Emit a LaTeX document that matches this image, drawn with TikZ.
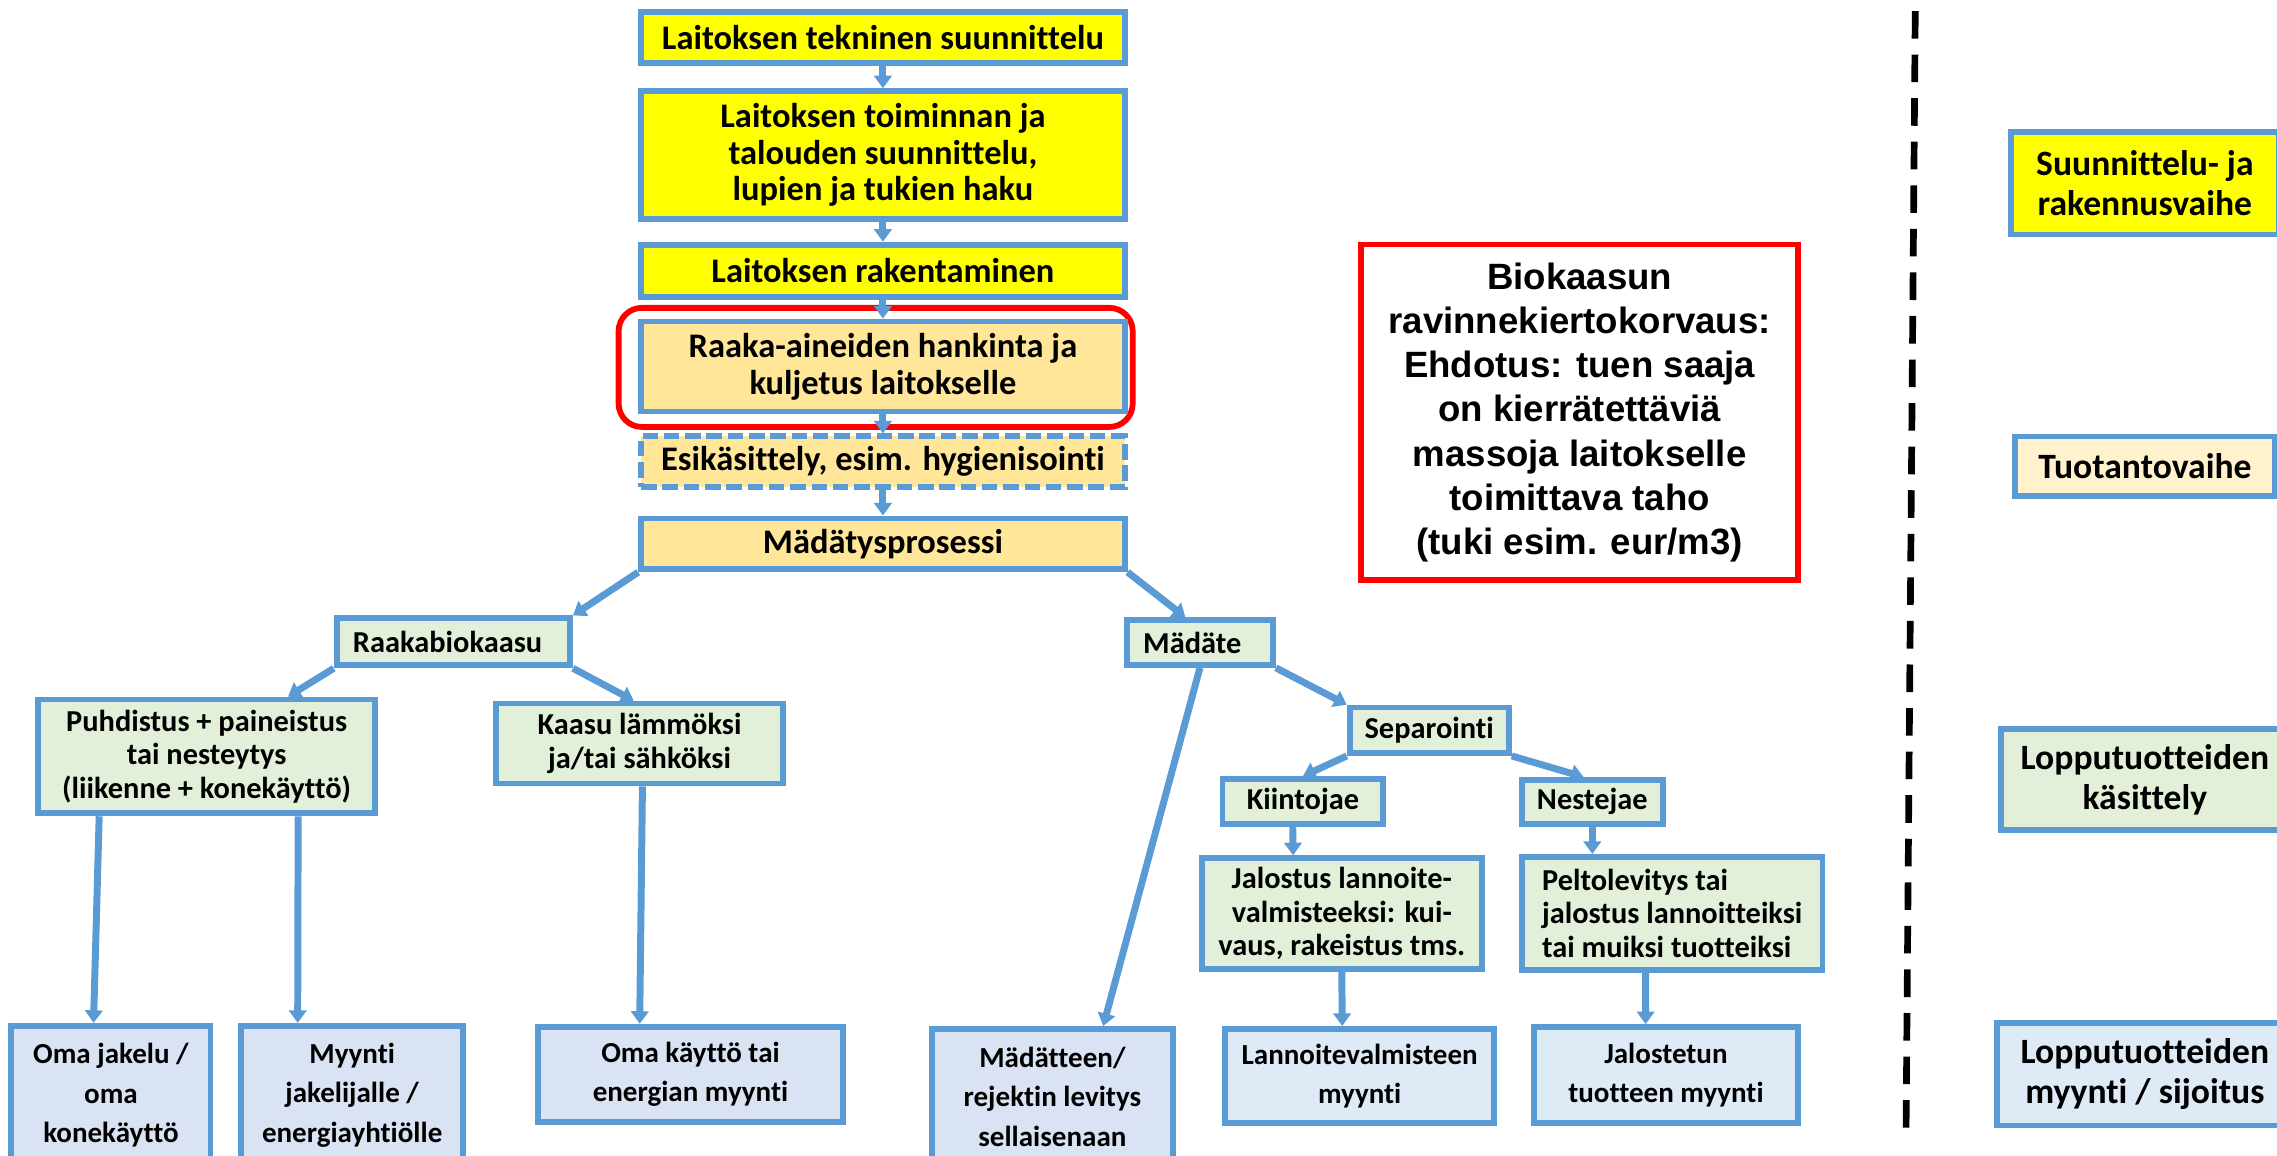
\documentclass[tikz,border=0pt]{standalone}
\usepackage{fontspec}
\usepackage{tikz}
\usetikzlibrary{calc}
\usetikzlibrary{positioning, arrows.meta}
\newfontfamily\calibri[Ligatures=NoCommon]{Carlito}
\newfontfamily\arialb{Liberation Sans}
\definecolor{boxblue}{HTML}{5B9BD5}
\definecolor{planyellow}{HTML}{FFFF00}
\definecolor{prodorange}{HTML}{FFE699}
\definecolor{prodlight}{HTML}{FFF2CC}
\definecolor{endgreen}{HTML}{E2F0D9}
\definecolor{salesblue}{HTML}{DAE3F3}
\definecolor{saleslight}{HTML}{DEEBF7}

\begin{document}
\begin{tikzpicture}[x=0.75pt,y=0.75pt,yscale=-1,xscale=1,
    box/.style 2 args={minimum width=0.75*#1pt, minimum height=0.75*#2pt},
    stage/.style={draw=boxblue, line width=3pt, inner sep=0pt, align=center},
    topfont/.style={font=\calibri\bfseries\fontsize{17.8}{18.9}\selectfont},
    midfont/.style={font=\calibri\bfseries\fontsize{15.7}{17.3}\selectfont},
    botfont/.style={font=\calibri\bfseries\fontsize{15}{20.3}\selectfont},
    sidefont/.style={font=\calibri\bfseries\fontsize{18.4}{21}\selectfont},
    arr/.style={draw=boxblue, line width=3.6pt, -{Triangle[width=9pt,length=6.5pt]}}
  ]
  \useasboundingbox (0,0) rectangle (1568,796);
  \clip (0,0) rectangle (1568,796);

  %Shape: Rounded Rectangle (red frame)
  \node [draw=red, line width=3pt, rounded corners=12pt, box={354}{82}] (valinta) at (603,253) {};

  % Suunnittelu- ja rakennusvaihe
  \node [stage, topfont, fill=planyellow, box={333}{35}] (tekn) at (608,26) {Laitoksen tekninen suunnittelu};
  \node [stage, topfont, fill=planyellow, box={333}{88}] (toim) at (608,106.8) {Laitoksen toiminnan ja\\talouden suunnittelu,\\lupien ja tukien haku};
  \node [stage, topfont, fill=planyellow, box={333}{36}] (rak) at (608,186.5) {Laitoksen rakentaminen};

  % Tuotantovaihe
  \node [stage, topfont, fill=prodorange, box={333}{62}] (hank) at (608,252.4) {Raaka-aineiden hankinta ja\\kuljetus laitokselle};
  \node [stage, topfont, fill=prodorange, box={333}{35}, dash pattern=on 8pt off 3pt] (esik) at (608,318) {Esikäsittely, esim. hygienisointi};
  \node [stage, topfont, fill=prodorange, box={333}{35}] (mad) at (608,374.5) {Mädätysprosessi};

  % Lopputuotteiden kasittely
  \node [stage, midfont, fill=endgreen, box={160.7}{32.4}, text width=103.7pt, align=left] (raaka) at (312.2,442) {Raakabiokaasu};
  \node [stage, midfont, fill=endgreen, box={100.6}{30.8}, text width=58.6pt, align=left] (madate) at (826.3,442.5) {Mädäte};
  \node [stage, midfont, fill=endgreen, box={232}{78.4}] (puhd) at (142.3,520.9) {Puhdistus + paineistus\\tai nesteytys\\(liikenne + konekäyttö)};
  \node [stage, midfont, fill=endgreen, box={197.8}{55}] (kaasu) at (440.4,512) {Kaasu lämmöksi\\ja/tai sähköksi};
  \node [stage, midfont, fill=endgreen, box={109.6}{31.3}] (sep) at (984.2,502.9) {Separointi};
  \node [stage, midfont, fill=endgreen, box={110.6}{30.8}] (kiin) at (897.2,551.9) {Kiintojae};
  \node [stage, midfont, fill=endgreen, box={96.9}{30.3}] (nest) at (1096.5,552.2) {Nestejae};
  \node [stage, midfont, fill=endgreen, box={193.1}{76.2}] (jal) at (924,629.1) {Jalostus lannoite-\\valmisteeksi: kui-\\vaus, rakeistus tms.};
  \node [stage, midfont, fill=endgreen, box={207}{77.7}, align=left] (pelto) at (1151.5,628.9) {Peltolevitys tai\\jalostus lannoitteiksi\\tai muiksi tuotteiksi};

  % Lopputuotteiden myynti
  \node [stage, botfont, fill=salesblue, box={137.2}{95.6}] (omajak) at (76.4,754.2) {Oma jakelu /\\oma\\konekäyttö};
  \node [stage, botfont, fill=salesblue, box={153.1}{95.6}] (myynti) at (242.5,754.2) {Myynti\\jakelijalle /\\energiayhtiölle};
  \node [stage, botfont, fill=salesblue, box={209.5}{65.8}] (omakay) at (475.5,739.9) {Oma käyttö tai\\energian myynti};
  \node [stage, botfont, fill=salesblue, box={166}{93.5}] (madatt) at (724.7,755.3) {Mädätteen/\\rejektin levitys\\sellaisenaan};
  \node [stage, botfont, fill=saleslight, box={185.2}{64.6}] (lann) at (936.3,740.8) {Lannoitevalmisteen\\myynti};
  \node [stage, botfont, fill=saleslight, box={182.2}{65.9}] (jalost) at (1147.2,740.2) {Jalostetun\\tuotteen myynti};

  % Text Node (proposal)
  \node [draw=red, fill=white, line width=3pt, inner sep=0pt, align=center, box={300.8}{231.3},
         font=\arialb\bfseries\fontsize{18.9}{22.8}\selectfont] (ehd) at (1087.8,284)
        {Biokaasun\\ravinnekiertokorvaus:\\Ehdotus: tuen saaja\\on kierrätettäviä\\massoja laitokselle\\toimittava taho\\(tuki esim. eur/m3)};

  % phase column
  \draw [black, line width=3.45pt, dash pattern=on 14.25pt off 8.25pt] (1318.9,7.6) -- (1312.5,784.5);
  \node [stage, sidefont, fill=planyellow, box={184}{70.6}] (suun) at (1477,126.2) {Suunnittelu- ja\\rakennusvaihe};
  \node [stage, sidefont, fill=prodlight, box={178.4}{41.2}] (tuot) at (1477,321.2) {Tuotantovaihe};
  \node [stage, sidefont, fill=endgreen, box={197.6}{69.6}] (lkas) at (1477,537) {Lopputuotteiden\\käsittely};
  \node [stage, sidefont, fill=saleslight, box={203.2}{70.7}] (lmyy) at (1477,739.7) {Lopputuotteiden\\myynti / sijoitus};

  % arrows
  \draw [arr] (tekn.south) -- (toim.north);
  \draw [arr] (toim.south) -- (rak.north);
  \draw [arr] (rak.south) -- (hank.north);
  \draw [arr] (hank.south) -- (esik.north);
  \draw [arr] (esik.south) -- (mad.north);
  \draw [arr] (mad.south west) -- (raaka.north east);
  \draw [arr] (mad.south east) -- ($(madate.north)+(-10,0)$);
  \draw [arr] (raaka.south west) -- ($(puhd.north)+(56,0)$);
  \draw [arr] (raaka.south east) -- ($(kaasu.north)+(-4,0)$);
  \draw [arr] ($(puhd.south)+(-74,0)$) -- ($(omajak.north)+(-12,0)$);
  \draw [arr] ($(puhd.south)+(63,0)$) -- ($(myynti.north)+(-37.5,0)$);
  \draw [arr] ($(kaasu.south)+(2,0)$) -- ($(omakay.north)+(-35,0)$);
  \draw [arr] (madate.south) -- ($(madatt.north)+(35,0)$);
  \draw [arr] (madate.south east) -- (sep.north west);
  \draw [arr] (sep.south west) -- (kiin.north);
  \draw [arr] (sep.south east) -- ($(nest.north)+(-6,0)$);
  \draw [arr] ($(kiin.south)+(-7,0)$) -- ($(jal.north)+(-33.5,0)$);
  \draw [arr] (jal.south) -- ($(lann.north)+(-12,0)$);
  \draw [arr] (nest.south) -- ($(pelto.north)+(-55,0)$);
  \draw [arr] ($(pelto.south)+(-18.3,0)$) -- ($(jalost.north)+(-14,0)$);
\end{tikzpicture}
\end{document}
